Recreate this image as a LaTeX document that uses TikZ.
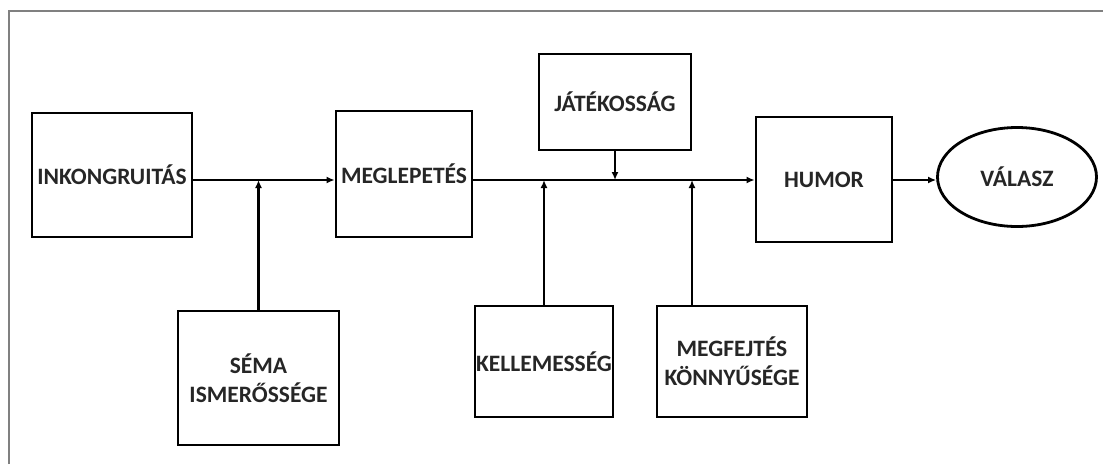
\documentclass[tikz,border=0pt]{standalone}
\usepackage{fontspec}
\setmainfont{Carlito}
\usetikzlibrary{arrows.meta,shapes.geometric}

\begin{document}
\begin{tikzpicture}[x=1pt,y=-1pt,
    box/.style={draw,line width=2.8pt,align=center,inner sep=0pt,
        font=\fontsize{23.5}{29}\selectfont\bfseries,text=black!85},
    link/.style={line width=2.4pt,-{Latex[length=8pt,width=7pt]}}]
        \useasboundingbox (0,0) rectangle (1103,464);
        \draw[black!50,line width=1.2pt] (9,464) -- (9,11) -- (1103,11);

        \node[box,minimum width=160,minimum height=124] (inko) at (112,175) {INKONGRUITÁS};
        \node[box,minimum width=136,minimum height=126] (megl) at (404,174) {MEGLEPETÉS};
        \node[box,minimum width=152,minimum height=96] (jatek) at (615,102) {JÁTÉKOSSÁG};
        \node[box,minimum width=136,minimum height=125] (humor) at (824,179.5) {HUMOR};
        \node[box,ellipse,minimum width=159,minimum height=99] (valasz) at (1017,177) {VÁLASZ};
        \node[box,minimum width=161,minimum height=134] (sema) at (258.5,378) {SÉMA\\ISMERŐSSÉGE};
        \node[box,minimum width=138,minimum height=111] (kell) at (544,361.5) {KELLEMESSÉG};
        \node[box,minimum width=150,minimum height=111] (megf) at (732,361.5) {MEGFEJTÉS\\KÖNNYŰSÉGE};

        \coordinate (axis) at (0,180);
        \coordinate (j1) at (258.5,180);
        \coordinate (j2) at (544,180);
        \coordinate (j3) at (615,180);
        \coordinate (j4) at (692,180);

        \draw[link] (inko.east |- axis) -- (megl.west |- axis);
        \draw[link] (megl.east |- axis) -- (humor.west |- axis);
        \draw[link] (humor.east |- axis) -- (valasz.west |- axis);
        \draw[link] (sema.north) -- (j1);
        \draw[link] (kell.north) -- (j2);
        \draw[link] (jatek.south) -- (j3);
        \draw[link] (megf.north -| j4) -- (j4);
    \end{tikzpicture}
\end{document}
